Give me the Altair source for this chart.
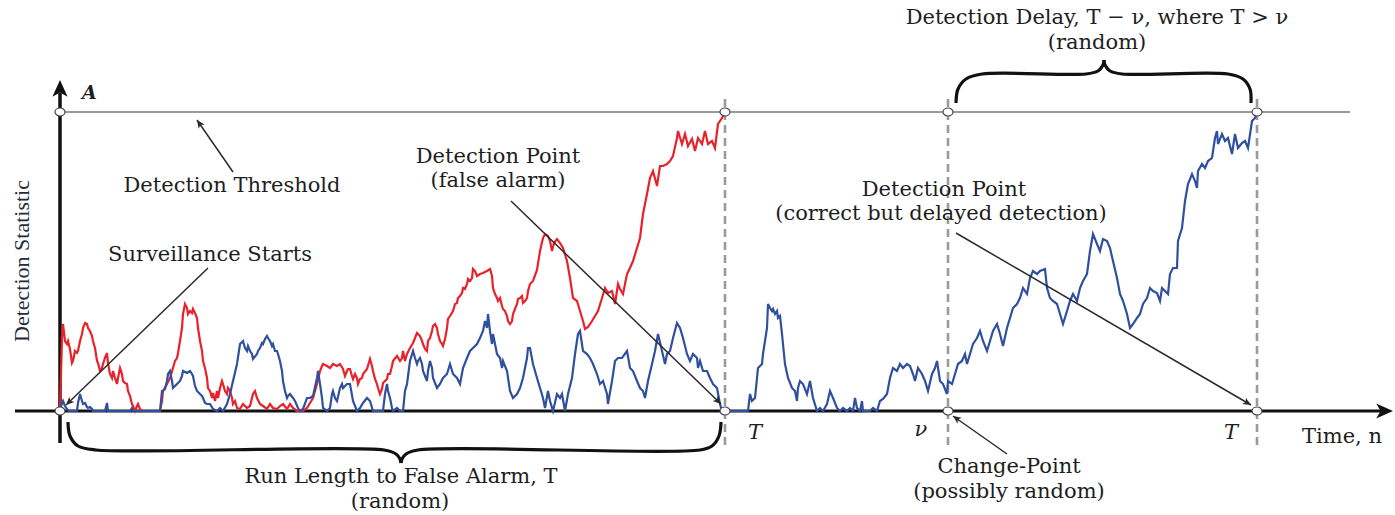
import math
import altair as alt
import pandas as pd

# Canvas / coordinate system: time n along x, detection statistic s along y.
W, H = 1395, 515
X_DOMAIN = [0, 1395]
Y_DOMAIN = [-104, 411]
THRESHOLD = 299          # level A
START_N = 60             # surveillance starts
FALSE_ALARM_N = 725      # T (false alarm run)
CHANGE_N = 948           # change-point nu
DETECT_N = 1257          # T (delayed detection)

RED = "#e8222a"
BLUE = "#2f4f9f"
INK = "#1e1e1e"
GREY = "#9a9a9a"

# Detection statistic before the false alarm (pre-change data)
red_path = [
    (60, 0), (62, 73), (63, 87), (65, 70), (67, 67), (68, 70), (70, 62), (72, 48), (73, 50),
    (75, 60), (77, 58), (78, 60), (80, 70), (82, 77), (83, 83), (85, 88), (87, 87), (88, 83),
    (90, 80), (92, 75), (93, 70), (95, 63), (97, 50), (98, 48), (100, 40), (102, 43), (103, 47),
    (105, 53), (107, 58), (108, 48), (110, 37), (112, 33), (113, 40), (115, 33), (117, 27),
    (118, 33), (120, 43), (122, 37), (123, 30), (125, 28), (127, 27), (128, 20), (130, 15),
    (132, 7), (133, 5), (135, 0), (137, 5), (138, 7), (140, 2), (142, 0), (160, 0), (162, 10),
    (163, 20), (167, 27), (170, 33), (173, 43), (175, 50), (177, 53), (178, 58), (180, 70),
    (182, 83), (183, 97), (185, 107), (187, 103), (188, 97), (190, 100), (192, 98), (193, 102),
    (195, 98), (197, 93), (198, 83), (200, 70), (202, 60), (203, 50), (205, 43), (207, 33),
    (208, 23), (210, 20), (212, 13), (213, 18), (215, 10), (217, 20), (218, 13), (220, 23),
    (222, 30), (223, 27), (225, 20), (227, 17), (228, 23), (230, 20), (232, 13), (233, 7),
    (235, 10), (237, 3), (240, 2), (243, 7), (247, 3), (250, 5), (253, 17), (255, 20),
    (257, 13), (260, 7), (263, 5), (267, 2), (270, 7), (273, 3), (277, 2), (280, 5), (283, 7),
    (287, 2), (290, 7), (293, 3), (297, 0), (303, 0), (307, 3), (310, 8), (313, 13), (317, 27),
    (320, 40), (322, 45), (323, 47), (327, 45), (330, 43), (333, 47), (337, 45), (340, 47),
    (343, 42), (345, 35), (347, 40), (348, 42), (350, 42), (352, 35), (353, 32), (355, 37),
    (357, 33), (358, 27), (360, 32), (362, 33), (363, 37), (367, 42), (370, 52), (372, 45),
    (373, 40), (375, 32), (377, 27), (378, 23), (380, 17), (382, 22), (383, 28), (387, 32),
    (388, 37), (390, 37), (392, 45), (393, 50), (397, 55), (400, 50), (402, 53), (403, 60),
    (405, 50), (407, 57), (410, 63), (413, 68), (415, 73), (417, 78), (420, 75), (422, 70),
    (423, 67), (425, 62), (427, 60), (428, 70), (430, 73), (432, 80), (433, 85), (435, 87),
    (437, 83), (438, 77), (440, 70), (442, 67), (443, 65), (445, 72), (447, 83), (448, 92),
    (450, 95), (453, 100), (455, 107), (457, 108), (458, 113), (460, 115), (462, 118),
    (463, 123), (465, 122), (467, 127), (468, 132), (470, 130), (472, 133), (473, 142),
    (475, 140), (477, 135), (480, 137), (483, 138), (487, 140), (490, 142), (492, 135),
    (493, 123), (495, 117), (497, 113), (498, 110), (500, 113), (502, 105), (503, 102),
    (505, 100), (507, 95), (508, 90), (510, 87), (512, 90), (513, 97), (517, 107), (518, 112),
    (520, 113), (522, 115), (523, 108), (525, 110), (527, 113), (528, 120), (530, 127),
    (533, 130), (537, 141), (540, 160), (543, 173), (545, 177), (548, 175), (550, 170),
    (552, 160), (554, 168), (557, 172), (560, 168), (563, 163), (567, 150), (570, 133),
    (573, 113), (577, 110), (580, 100), (583, 90), (585, 82), (588, 84), (592, 90), (595, 95),
    (598, 100), (602, 113), (605, 123), (608, 118), (612, 120), (615, 107), (618, 127),
    (620, 122), (623, 117), (627, 137), (630, 143), (633, 150), (637, 163), (640, 173),
    (643, 197), (647, 217), (650, 233), (653, 240), (657, 225), (660, 245), (663, 245),
    (667, 247), (670, 250), (673, 255), (677, 273), (678, 280), (682, 267), (685, 277),
    (688, 265), (692, 272), (695, 260), (698, 273), (702, 267), (705, 280), (708, 267),
    (712, 270), (715, 263), (718, 287), (722, 293), (725, 299),
]

# Detection statistic of the monitored run, with the change at nu
blue_path = [
    (60, 0), (62, 8), (63, 10), (65, 5), (67, 2), (69, 0), (77, 0), (78, 8), (80, 17), (82, 10),
    (83, 7), (85, 8), (87, 4), (88, 3), (90, 4), (92, 2), (93, 0), (105, 0), (107, 8), (108, 0),
    (130, 0), (132, 3), (133, 0), (160, 0), (162, 20), (163, 20), (165, 22), (167, 30),
    (168, 37), (170, 40), (172, 30), (173, 23), (175, 25), (177, 27), (180, 30), (182, 35),
    (183, 40), (187, 38), (190, 40), (192, 37), (193, 35), (195, 25), (197, 20), (200, 17),
    (202, 15), (203, 13), (205, 8), (207, 7), (210, 7), (213, 2), (217, 0), (220, 3), (223, 0),
    (227, 7), (230, 17), (233, 30), (237, 47), (240, 67), (243, 70), (245, 63), (247, 60),
    (248, 65), (250, 60), (252, 57), (253, 52), (257, 57), (258, 60), (260, 63), (262, 68),
    (263, 67), (265, 72), (267, 75), (268, 73), (270, 70), (272, 65), (273, 67), (275, 60),
    (277, 60), (278, 57), (280, 50), (282, 40), (283, 30), (285, 20), (287, 13), (288, 15),
    (290, 17), (293, 13), (295, 10), (298, 3), (300, 0), (303, 2), (307, 13), (310, 13),
    (313, 15), (317, 33), (318, 40), (320, 27), (322, 13), (323, 3), (327, 0), (330, 3),
    (332, 17), (333, 20), (335, 13), (337, 10), (340, 23), (342, 27), (343, 23), (347, 27),
    (350, 27), (353, 10), (357, 0), (360, 3), (363, 8), (367, 13), (370, 10), (373, 0),
    (383, 0), (385, 17), (387, 27), (388, 20), (390, 13), (392, 3), (393, 0), (397, 3),
    (400, 0), (403, 0), (405, 20), (407, 27), (410, 50), (413, 60), (415, 53), (417, 47),
    (418, 50), (420, 53), (422, 47), (423, 40), (427, 30), (428, 40), (430, 50), (432, 43),
    (433, 33), (437, 23), (440, 27), (443, 33), (447, 37), (450, 47), (453, 37), (457, 33),
    (460, 27), (463, 43), (467, 53), (470, 60), (473, 63), (477, 67), (480, 73), (483, 80),
    (485, 90), (487, 83), (488, 97), (490, 80), (492, 67), (493, 77), (495, 67), (497, 57),
    (500, 53), (502, 43), (503, 50), (507, 40), (510, 20), (513, 13), (517, 17), (520, 23),
    (523, 33), (527, 53), (528, 63), (530, 63), (533, 47), (537, 33), (540, 23), (543, 13),
    (545, 3), (548, 20), (550, 10), (553, 0), (557, 17), (560, 13), (562, 17), (565, 0),
    (568, 17), (572, 33), (575, 57), (578, 77), (580, 80), (583, 60), (587, 57), (590, 53),
    (593, 47), (597, 37), (600, 27), (603, 30), (607, 17), (608, 7), (612, 30), (615, 50),
    (618, 53), (622, 53), (627, 60), (630, 43), (633, 40), (637, 30), (640, 23), (643, 20),
    (645, 13), (648, 30), (652, 47), (655, 60), (658, 77), (662, 60), (665, 47), (667, 57),
    (670, 60), (673, 73), (677, 88), (680, 83), (683, 73), (687, 57), (690, 50), (693, 57),
    (697, 53), (698, 43), (700, 50), (703, 40), (707, 40), (710, 33), (713, 27), (717, 23),
    (720, 7), (722, 0), (725, 0), (748, 0), (750, 17), (752, 10), (755, 13), (758, 43),
    (762, 47), (763, 57), (767, 83), (768, 107), (770, 103), (772, 100), (773, 102), (775, 97),
    (777, 100), (778, 93), (780, 95), (782, 77), (785, 47), (788, 33), (792, 23), (795, 20),
    (797, 10), (798, 23), (800, 30), (803, 27), (807, 17), (810, 30), (813, 13), (817, 0),
    (820, 3), (823, 0), (827, 7), (830, 20), (833, 13), (837, 3), (840, 0), (843, 3), (847, 0),
    (850, 3), (853, 0), (855, 13), (857, 3), (860, 0), (862, 10), (863, 0), (870, 0), (873, 3),
    (877, 0), (880, 10), (883, 12), (887, 17), (890, 33), (893, 43), (897, 40), (900, 47),
    (903, 43), (907, 47), (910, 45), (913, 37), (915, 30), (918, 43), (922, 37), (925, 30),
    (928, 20), (932, 37), (935, 43), (937, 50), (940, 30), (943, 27), (947, 17), (948, 30),
    (952, 27), (955, 37), (958, 47), (962, 50), (965, 57), (967, 47), (970, 57), (973, 67),
    (977, 73), (980, 80), (983, 70), (987, 60), (990, 70), (993, 80), (997, 87), (1000, 77),
    (1003, 65), (1007, 83), (1010, 93), (1013, 103), (1017, 107), (1020, 113), (1023, 123),
    (1027, 117), (1030, 133), (1033, 140), (1037, 137), (1040, 140), (1045, 142), (1047, 123),
    (1050, 113), (1053, 110), (1057, 107), (1060, 97), (1063, 87), (1067, 100), (1070, 110),
    (1073, 117), (1077, 110), (1080, 123), (1083, 130), (1087, 137), (1090, 160), (1093, 177),
    (1097, 167), (1100, 160), (1103, 172), (1107, 170), (1110, 163), (1113, 150), (1117, 133),
    (1120, 117), (1123, 110), (1127, 97), (1130, 83), (1133, 87), (1137, 93), (1140, 97),
    (1143, 107), (1147, 113), (1150, 123), (1153, 120), (1157, 118), (1160, 110), (1162, 123),
    (1165, 120), (1168, 117), (1170, 137), (1173, 143), (1177, 143), (1178, 170), (1182, 183),
    (1185, 210), (1188, 227), (1192, 237), (1195, 230), (1197, 223), (1198, 240), (1202, 247),
    (1205, 243), (1208, 250), (1212, 253), (1215, 273), (1217, 280), (1218, 267), (1222, 277),
    (1225, 270), (1228, 273), (1232, 257), (1235, 277), (1238, 263), (1242, 268), (1245, 270),
    (1248, 263), (1252, 290), (1255, 293), (1257, 299),
]

# Annotation pointers: (from n, from s, to n, to s)
pointers = [
    (233, 239, 197, 291),     # Detection Threshold
    (208, 143, 66, 6),        # Surveillance Starts
    (511, 210, 721, 7),       # Detection Point (false alarm)
    (956, 178, 1251, 6),      # Detection Point (delayed)
    (1007, -43, 953, -5),     # Change-Point
]

# Curly braces drawn as two smooth halves each
brace_top = {
    "left": [(956, 308), (958, 322), (966, 332), (982, 337), (1086, 337), (1098, 340),
             (1103, 346), (1104, 351)],
    "right": [(1104, 351), (1105, 346), (1110, 340), (1122, 337), (1228, 337), (1243, 332),
              (1250, 322), (1251, 308)],
}
brace_bottom = {
    "left": [(68, -11), (70, -25), (78, -35), (96, -39), (384, -39), (396, -43), (400, -48),
             (401, -52)],
    "right": [(401, -52), (402, -48), (406, -43), (418, -39), (700, -39), (712, -35),
              (719, -25), (721, -11)],
}

labels = [
    ("Detection Threshold", 232, 225),
    ("Surveillance Starts", 210, 156),
    ("Detection Point", 498, 254),
    ("(false alarm)", 498, 230),
    ("Detection Point", 944, 221),
    ("(correct but delayed detection)", 941, 197),
    ("Detection Delay, T − ν, where T > ν", 1097, 393),
    ("(random)", 1097, 368),
    ("Run Length to False Alarm, T", 401, -66),
    ("(random)", 400, -91),
    ("Change-Point", 1009, -56),
    ("(possibly random)", 1009, -81),
    ("Time, n", 1342, -26),
]
math_labels = [("T", 755, -22), ("ν", 921, -19), ("T", 1231, -22)]

xs = alt.Scale(domain=X_DOMAIN, nice=False, zero=False)
ys = alt.Scale(domain=Y_DOMAIN, nice=False, zero=False)


def X(field="n"):
    return alt.X(f"{field}:Q", scale=xs, axis=None)


def Y(field="s"):
    return alt.Y(f"{field}:Q", scale=ys, axis=None)


def path_frame(points):
    return pd.DataFrame({"i": range(len(points)),
                         "n": [p[0] for p in points],
                         "s": [p[1] for p in points]})


def brace_frame(halves):
    rows = []
    for part, pts in halves.items():
        for i, (n, s) in enumerate(pts):
            rows.append({"part": part, "i": i, "n": n, "s": s})
    return pd.DataFrame(rows)


def heading(dn, ds):
    # screen rotation (clockwise from up) of a segment; 1 unit = 1 px on both scales
    return math.degrees(math.atan2(dn, ds)) % 360


STEALTH = "M0,0 L0.95,2.1 L0,1.55 L-0.95,2.1 Z"
ELLIPSE = "M-1.25,0 A1.25,1 0 1,0 1.25,0 A1.25,1 0 1,0 -1.25,0 Z"

# threshold level A
threshold = alt.Chart(pd.DataFrame({"n": [START_N], "n2": [1350], "s": [THRESHOLD]})).mark_rule(
    color=GREY, strokeWidth=2.2
).encode(x=X(), x2="n2:Q", y=Y())

# dashed verticals at the two stopping times and the change-point
marks_n = [FALSE_ALARM_N, CHANGE_N, DETECT_N]
dashed = alt.Chart(pd.DataFrame({"n": marks_n, "s": [-34] * 3, "s2": [313] * 3})).mark_rule(
    color=GREY, strokeWidth=2.6, strokeDash=[8, 5]
).encode(x=X(), y=Y(), y2="s2:Q")

# axes
x_axis = alt.Chart(pd.DataFrame({"n": [15], "n2": [1382], "s": [0]})).mark_rule(
    color="#111", strokeWidth=3
).encode(x=X(), x2="n2:Q", y=Y())
y_axis = alt.Chart(pd.DataFrame({"n": [START_N], "s": [-32], "s2": [318]})).mark_rule(
    color="#111", strokeWidth=3.5
).encode(x=X(), y=Y(), y2="s2:Q")
axis_heads = alt.Chart(pd.DataFrame({"n": [START_N, 1393], "s": [331, 0], "ang": [0, 90]})).mark_point(
    shape=STEALTH, filled=True, color="#111", opacity=1, size=256, strokeWidth=0
).encode(x=X(), y=Y(), angle=alt.Angle("ang:Q", scale=None))

red_line = alt.Chart(path_frame(red_path)).mark_line(color=RED, strokeWidth=2.2).encode(
    x=X(), y=Y(), order="i:Q")
blue_line = alt.Chart(path_frame(blue_path)).mark_line(color=BLUE, strokeWidth=2.2).encode(
    x=X(), y=Y(), order="i:Q")

ptr_df = pd.DataFrame(pointers, columns=["n", "s", "n2", "s2"])
ptr_df["ang"] = [heading(r.n2 - r.n, r.s2 - r.s) for r in ptr_df.itertuples()]
ptr_lines = alt.Chart(ptr_df).mark_rule(color="#2a2a2a", strokeWidth=1.5).encode(
    x=X(), y=Y(), x2="n2:Q", y2="s2:Q")
ptr_heads = alt.Chart(ptr_df).mark_point(
    shape=STEALTH, filled=True, color="#2a2a2a", opacity=1, size=60, strokeWidth=0
).encode(x=X("n2"), y=Y("s2"), angle=alt.Angle("ang:Q", scale=None))

circle_df = pd.DataFrame({
    "n": [START_N, START_N, FALSE_ALARM_N, FALSE_ALARM_N, CHANGE_N, CHANGE_N, DETECT_N, DETECT_N],
    "s": [0, THRESHOLD] * 4,
})
circles = alt.Chart(circle_df).mark_point(
    shape=ELLIPSE, filled=True, fill="white", stroke="#444", strokeWidth=1.2, opacity=1, size=64
).encode(x=X(), y=Y())

braces = alt.layer(
    *[alt.Chart(brace_frame(b)).mark_line(color="#111", strokeWidth=3.2, interpolate="catmull-rom")
      .encode(x=X(), y=Y(), detail="part:N", order="i:Q") for b in (brace_top, brace_bottom)]
)

text_df = pd.DataFrame(labels, columns=["text", "n", "s"])
texts = alt.Chart(text_df).mark_text(
    font="DejaVu Serif", fontSize=21, color=INK, align="center", baseline="middle"
).encode(x=X(), y=Y(), text="text:N")

math_df = pd.DataFrame(math_labels, columns=["text", "n", "s"])
math_texts = alt.Chart(math_df).mark_text(
    font="DejaVu Serif", fontSize=21, fontStyle="italic", color=INK, align="center", baseline="middle"
).encode(x=X(), y=Y(), text="text:N")

a_label = alt.Chart(pd.DataFrame({"text": ["A"], "n": [82], "s": [318]})).mark_text(
    font="DejaVu Serif", fontSize=19, fontStyle="italic", fontWeight="bold", color=INK,
    align="left", baseline="middle"
).encode(x=X(), y=Y(), text="text:N")

y_title = alt.Chart(pd.DataFrame({"text": ["Detection Statistic"], "n": [22], "s": [150]})).mark_text(
    font="Liberation Serif", fontSize=22, angle=270, color="#262a3a", align="center", baseline="middle"
).encode(x=X(), y=Y(), text="text:N")

chart = alt.layer(
    threshold, dashed, x_axis, y_axis, axis_heads, red_line, blue_line,
    ptr_lines, ptr_heads, circles, braces, texts, math_texts, a_label, y_title,
).properties(
    width=W, height=H, padding=0, autosize=alt.AutoSizeParams(type="none"), background="white"
).configure_view(stroke=None)

chart.save("out.html", embed_options={"renderer": "svg", "actions": False})
